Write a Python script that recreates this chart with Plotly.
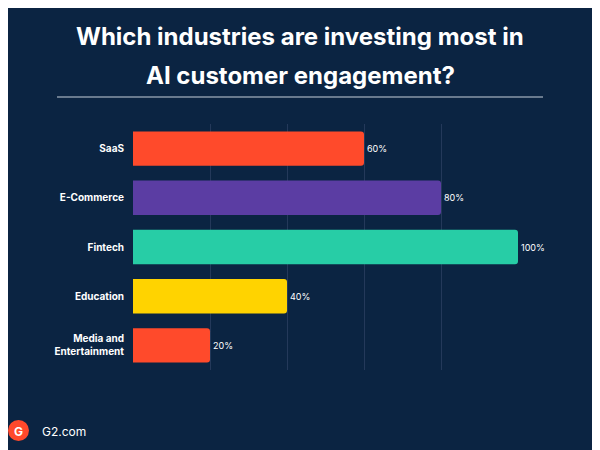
import plotly.graph_objects as go

categories = ["SaaS", "E-Commerce", "Fintech", "Education", "Media and<br>Entertainment"]
values = [60, 80, 100, 40, 20]
labels = ["60%", "80%", "100%", "40%", "20%"]
colors = ["#FF4A2B", "#5B3DA3", "#27CDA6", "#FFD300", "#FF4A2B"]
title_lines = ["Which industries are investing most in", "AI customer engagement?"]
bg = "#0B2442"

OFF = 8  # page offset
FW, FH = 592, 442
L, R, T, B = 133 - OFF, 82, 124 - OFF, 80

fig = go.Figure(go.Bar(
    y=categories, x=values, orientation="h",
    marker=dict(color=colors, line=dict(width=0), cornerradius=3),
    text=labels, textposition="outside", cliponaxis=False,
    textfont=dict(color="#FFFFFF", size=9, family="Inter"),
))
fig.update_layout(
    width=FW, height=FH, paper_bgcolor=bg, plot_bgcolor=bg,
    margin=dict(l=L, r=R, t=T, b=B),
    bargap=0.3, showlegend=False,
    xaxis=dict(range=[0, 100], dtick=20, showgrid=True, gridcolor="#24395A",
               showticklabels=False, zeroline=False, showline=False),
    yaxis=dict(autorange="reversed", tickfont=dict(color="#FFFFFF", size=10, family="Inter", weight="bold"),
               ticks="outside", ticklen=6, tickcolor=bg, showline=False),
)
H = FH - T - B
W = FW - L - R
def px(x): return (x - OFF - L) / W
def py(y): return (FH - B - (y - OFF)) / H

for i, line in enumerate(title_lines):
    fig.add_annotation(text="<b>" + line + "</b>", x=px(300), y=py(37 + 38 * i), xref="paper", yref="paper",
                       showarrow=False, font=dict(color="#FFFFFF", size=24, family="Inter"),
                       xanchor="center", yanchor="middle")
fig.add_annotation(text="G2.com", x=px(40), y=py(431), xref="paper", yref="paper", showarrow=False,
                   font=dict(color="#FFFFFF", size=12, family="Inter"), xanchor="left", yanchor="middle")
fig.add_shape(type="circle", xref="paper", yref="paper", x0=px(8), x1=px(29), y0=py(441), y1=py(420),
              fillcolor="#FF492C", line=dict(width=0))
fig.add_annotation(text="<b>G</b>", x=px(18.5), y=py(431), xref="paper", yref="paper", showarrow=False,
                   font=dict(color="#FFFFFF", size=12, family="Inter"), xanchor="center", yanchor="middle")
fig.add_shape(type="line", xref="paper", yref="paper", x0=px(57), x1=px(543), y0=py(97), y1=py(97),
              line=dict(color="#C8D0DA", width=1))
fig.write_html("out.html")
